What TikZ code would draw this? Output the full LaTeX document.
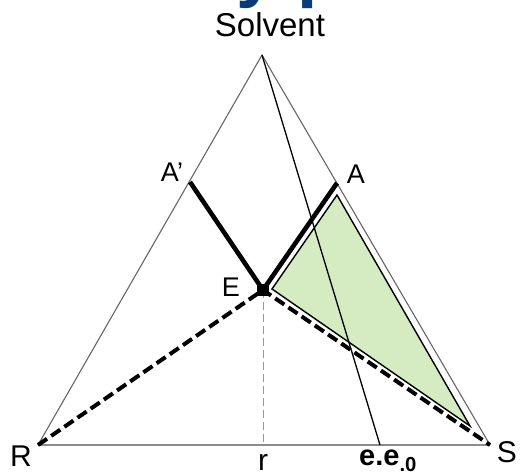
\documentclass[tikz,border=0pt]{standalone}
\usepackage{fontspec}
\setmainfont{Liberation Sans}
\usepackage{xcolor}
\usepackage{tikz}
\usetikzlibrary{positioning,calc}
\definecolor{leafgreen}{HTML}{D5ECC2}
\definecolor{titleblue}{HTML}{0B3A78}

\begin{document}
\begin{tikzpicture}[
  x=1pt, y=-1pt,
  lbl/.style={inner sep=0pt, font=\fontsize{27}{30}\selectfont},
  biglbl/.style={inner sep=0pt, font=\fontsize{30}{33}\selectfont},
  side/.style={draw=black!60, line width=1.1pt},
  tie/.style={line width=4.6pt},
  dashtie/.style={line width=4pt, dash pattern=on 11pt off 5pt},
  drop/.style={draw=black!40, line width=1pt, dash pattern=on 8pt off 4pt},
]
\useasboundingbox (0,0) rectangle (523,473);
% corners of the diagram
\coordinate (top) at (262,55);
\coordinate (R)   at (38,445);
\coordinate (S)   at (490,445);
\coordinate (Ap)  at (190,182);
\coordinate (A)   at (337,183);
\coordinate (E)   at (263,290);
\coordinate (r)   at (263,445);
\coordinate (ee)  at (380,445);
\coordinate (g1)  at (272,289);
\coordinate (g2)  at (337,195);
\coordinate (g3)  at (470,426);

% cut title of the slide
\node[anchor=base west, inner sep=0pt, text=titleblue,
      font=\bfseries\fontsize{73}{80}\selectfont] (title) at (236,-6) {y p};

\fill[leafgreen] (g1) -- (g2) -- (g3) -- cycle;

\draw[side] (R) -- (top) -- (S);
\draw[draw=black!45, line width=1.6pt] (R) -- (S);
\draw[drop] (E) -- (r);
\draw[tie] (Ap) -- (E) -- (A);
\draw[dashtie] (R) -- (E) -- (S);
\fill (E) ++(-6,-6) rectangle ++(12,12);
\draw[line width=1.4pt] (g1) -- (g2) -- (g3) -- cycle;
\draw[line width=1.3pt] (top) -- (ee);

\node[biglbl, font=\fontsize{33}{36}\selectfont] (lsolv) at (270,25) {Solvent};
\node[lbl] (lAp) at (172,172) {A'};
\node[lbl] (lA)  at (356,174) {A};
\node[lbl] (lE)  at (231,287) {E};
\node[biglbl, anchor=base] (lR) at (21,467) {R};
\node[biglbl, anchor=base] (lS) at (507,463) {S};
\node[biglbl, anchor=base] (lr) at (263,471) {r};
\node[biglbl, anchor=base west, font=\bfseries\fontsize{29}{32}\selectfont]
  (lee) at (359,466) {e.e\textsubscript{.0}};
\end{tikzpicture}
\end{document}
